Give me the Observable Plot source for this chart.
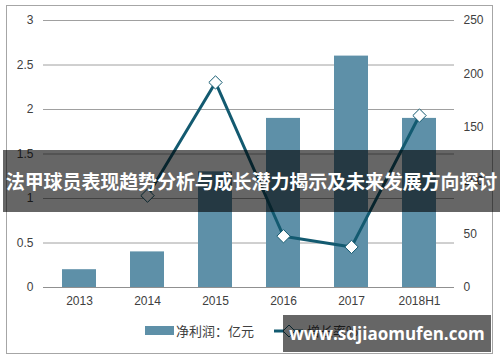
<!DOCTYPE html>
<html><head><meta charset="utf-8">
<script src="https://cdn.jsdelivr.net/npm/d3@7"></script>
<script src="https://cdn.jsdelivr.net/npm/@observablehq/plot@0.6"></script>
<style>
html,body{margin:0;padding:0;background:#fff;}
#wrap{position:relative;width:500px;height:362px;overflow:hidden;font-family:"Liberation Sans",Arial,sans-serif;}
#frame{position:absolute;left:6px;top:5px;width:487px;height:349px;border:1px solid #a6a6a6;box-sizing:border-box;}
#chart{position:absolute;left:0;top:0;}
#legend{position:absolute;left:0;top:321px;width:500px;height:20px;}
.banner{position:absolute;left:3px;top:150px;width:497px;height:62px;background:rgba(0,0,0,0.6);color:#fff;font-family:"Noto Sans CJK SC",sans-serif;font-weight:bold;font-size:19px;line-height:62px;text-align:center;white-space:nowrap;letter-spacing:-0.1px;}
.wm{position:absolute;left:283px;top:315px;width:208px;height:37px;background:rgba(0,0,0,0.6);color:#fff;font-family:"Open Sans","DejaVu Sans",sans-serif;font-weight:bold;font-size:17px;line-height:37px;text-align:center;white-space:nowrap;}
</style></head>
<body>
<div id="wrap">
<div id="frame"></div>
<div id="chart"></div>
<div id="legend"></div>
<div class="banner">法甲球员表现趋势分析与成长潜力揭示及未来发展方向探讨</div>
<div class="wm">www.sdjiaomufen.com</div>
</div>
<script>
const years = ["2013","2014","2015","2016","2017","2018H1"];
const profit = [0.2, 0.4, 1.3, 1.9, 2.6, 1.9];
const growthYears = ["2014","2015","2016","2017","2018H1"];
const growth = [86, 192, 48, 38, 161];
const leftTicks = [0, 0.5, 1, 1.5, 2, 2.5, 3];
const rightTicks = [0, 50, 100, 150, 200, 250];
const seriesNames = ["净利润：亿元", "增长率%"];

const barColor = "#5e90a8";
const lineColor = "#135a70";
const k = 3 / 250;

const bars = years.map((y, i) => ({year: y, value: profit[i]}));
const pts = growthYears.map((y, i) => ({year: y, value: growth[i] * k}));

const chart = Plot.plot({
  width: 500,
  height: 310,
  marginTop: 20,
  marginBottom: 23,
  marginLeft: 43,
  marginRight: 46,
  style: {fontFamily: "Liberation Sans, Arial, sans-serif", fontSize: "12px", color: "#404040", background: "transparent"},
  x: {domain: years, paddingInner: 0.5, paddingOuter: 0.25, label: null},
  y: {domain: [0, 3], label: null},
  marks: [
    Plot.gridY(leftTicks, {stroke: "#a0a0a0", strokeOpacity: 1, strokeWidth: 1}),
    Plot.barY(bars, {x: "year", y: "value", fill: barColor}),
    Plot.ruleY([0], {stroke: "#909090"}),
    Plot.line(pts, {x: "year", y: "value", stroke: lineColor, strokeWidth: 3}),
    Plot.dot(pts, {x: "year", y: "value", symbol: "diamond2", r: 6, fill: "#fff", stroke: lineColor, strokeWidth: 1}),
    Plot.axisX({tickSize: 0, tickPadding: 9, label: null, fontSize: 12}),
    Plot.axisY(leftTicks, {anchor: "left", tickSize: 0, tickPadding: 10, label: null, tickFormat: d => String(d)}),
    Plot.axisY(rightTicks.map(t => t * k), {anchor: "right", tickSize: 0, tickPadding: 9, label: null, tickFormat: d => String(Math.round(d / k))})
  ]
});
document.getElementById("chart").appendChild(chart);

// legend
const lg = d3.select("#legend").append("svg").attr("width", 500).attr("height", 20);
lg.append("rect").attr("x", 145).attr("y", 5).attr("width", 29).attr("height", 9).attr("fill", barColor);
lg.append("text").attr("x", 176).attr("y", 15).attr("font-size", 13).attr("fill", "#404040").attr("font-family", "Noto Sans CJK SC, sans-serif").text(seriesNames[0]);
lg.append("line").attr("x1", 274).attr("x2", 303).attr("y1", 10).attr("y2", 10).attr("stroke", lineColor).attr("stroke-width", 3);
lg.append("path").attr("d", "M289,4 L295,10 L289,16 L283,10 Z").attr("fill", "#fff").attr("stroke", lineColor);
lg.append("text").attr("x", 307).attr("y", 15).attr("font-size", 13).attr("fill", "#404040").attr("font-family", "Noto Sans CJK SC, sans-serif").text(seriesNames[1]);
</script>
</body></html>
